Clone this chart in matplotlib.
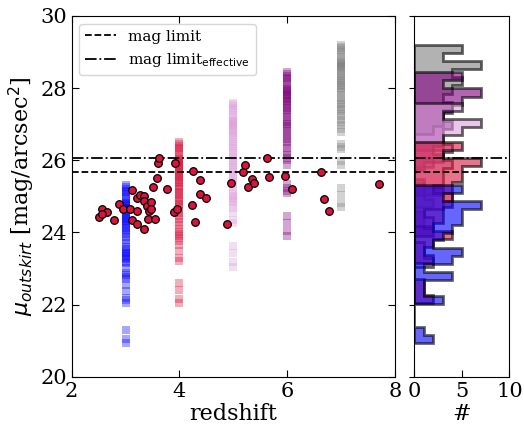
import numpy as np
import matplotlib
matplotlib.use('Agg')
import matplotlib.pyplot as plt

plt.rcParams['font.family'] = 'DejaVu Serif'

# redshift slices of the simulated outskirt brightness
stripe_z = [3, 4, 5, 6, 7]
stripe_colors = ['blue', 'crimson', 'plum', 'purple', 'gray']

mu_z3 = [20.93, 21.05, 21.30, 22.05, 22.12, 22.19, 22.38, 22.55, 22.70, 22.76,
         22.81, 22.87, 23.02, 23.14, 23.19, 23.25, 23.30, 23.35, 23.40, 23.44,
         23.48, 23.53, 23.60, 23.70, 23.80, 23.88, 23.95, 24.02, 24.08, 24.13,
         24.19, 24.23, 24.28, 24.32, 24.37, 24.41, 24.45, 24.50, 24.54, 24.58,
         24.63, 24.66, 24.69, 24.72, 24.76, 24.79, 24.82, 24.85, 24.92, 24.99,
         25.06, 25.11, 25.15, 25.20, 25.25, 25.31]
mu_z4 = [22.03, 22.15, 22.40, 22.60, 23.20, 23.30, 23.48, 23.65, 23.75, 23.85,
         23.90, 23.96, 24.01, 24.10, 24.20, 24.30, 24.38, 24.45, 24.53, 24.60,
         24.68, 24.75, 24.80, 24.86, 24.91, 24.97, 25.03, 25.08, 25.13, 25.19,
         25.25, 25.30, 25.36, 25.41, 25.46, 25.50, 25.54, 25.58, 25.63, 25.68,
         25.72, 25.76, 25.80, 25.85, 25.88, 25.92, 25.95, 25.98, 26.01, 26.04,
         26.10, 26.17, 26.24, 26.30, 26.35, 26.40, 26.45, 26.51]
mu_z5 = [23.05, 23.18, 23.42, 23.62, 24.25, 24.35, 24.55, 24.68, 24.75, 24.83,
         24.90, 24.96, 25.02, 25.07, 25.15, 25.25, 25.37, 25.45, 25.52, 25.60,
         25.67, 25.74, 25.81, 25.87, 25.93, 25.98, 26.05, 26.12, 26.20, 26.27,
         26.33, 26.39, 26.44, 26.51, 26.58, 26.65, 26.71, 26.76, 26.80, 26.84,
         26.89, 26.94, 26.97, 27.00, 27.03, 27.06, 27.09, 27.12, 27.19, 27.26,
         27.33, 27.40, 27.45, 27.50, 27.55, 27.60]
mu_z6 = [23.90, 24.03, 24.25, 24.45, 25.08, 25.15, 25.22, 25.35, 25.88, 26.00,
         26.07, 26.14, 26.24, 26.34, 26.44, 26.51, 26.58, 26.67, 26.74, 26.81,
         26.89, 26.95, 27.01, 27.06, 27.13, 27.20, 27.27, 27.34, 27.40, 27.46,
         27.51, 27.56, 27.61, 27.65, 27.69, 27.74, 27.79, 27.82, 27.85, 27.88,
         27.91, 27.94, 27.97, 28.04, 28.11, 28.18, 28.24, 28.29, 28.34, 28.39,
         28.45]
mu_z7 = [24.70, 24.82, 25.05, 25.22, 25.88, 25.98, 26.30, 26.38, 26.45, 26.78,
         26.88, 26.99, 27.06, 27.13, 27.22, 27.29, 27.36, 27.43, 27.49, 27.55,
         27.60, 27.67, 27.74, 27.81, 27.88, 27.94, 28.00, 28.05, 28.10, 28.15,
         28.19, 28.23, 28.27, 28.33, 28.39, 28.45, 28.50, 28.55, 28.58, 28.61,
         28.64, 28.67, 28.70, 28.73, 28.79, 28.86, 28.93, 29.00, 29.05, 29.10,
         29.15, 29.20]
stripe_mu = [mu_z3, mu_z4, mu_z5, mu_z6, mu_z7]

# observed galaxies
obs_z = [2.51, 2.57, 2.66, 2.57, 2.79, 2.88, 2.96, 3.12, 3.09, 3.12,
         3.21, 3.22, 3.22, 3.26, 3.34, 3.35, 3.40, 3.43, 3.48, 3.47,
         3.42, 3.55, 3.50, 3.59, 3.60, 3.62, 3.35, 3.77, 3.92, 3.89,
         3.95, 4.23, 4.25, 4.29, 4.39, 4.39, 4.49, 4.89, 4.96, 5.18,
         5.21, 5.27, 5.34, 5.38, 5.62, 5.67, 5.96, 6.09, 6.62, 6.68,
         6.78, 7.70]
obs_mu = [24.42, 24.64, 24.57, 24.51, 24.34, 24.79, 24.66, 25.17, 24.64, 24.34,
          24.22, 24.59, 24.95, 25.03, 25.00, 24.88, 24.73, 24.58, 24.85, 24.65,
          24.36, 24.37, 25.27, 25.52, 25.93, 26.07, 24.09, 25.19, 25.93, 24.56,
          24.64, 24.77, 25.70, 24.29, 25.45, 25.06, 24.96, 24.24, 25.36, 25.68,
          25.86, 25.27, 25.48, 25.37, 26.06, 25.54, 25.56, 25.20, 25.68, 24.93,
          24.58, 25.34]

mag_limit = 25.68
mag_limit_eff = 26.06

fig = plt.figure(figsize=(5.24, 4.30), dpi=100)
ax = fig.add_axes([0.1368, 0.1240, 0.6170, 0.8388])
axh = fig.add_axes([0.7901, 0.1240, 0.1819, 0.8388], sharey=ax)

for z, mu, c in zip(stripe_z, stripe_mu, stripe_colors):
    ax.scatter(np.full(len(mu), z), mu, marker='s', s=28, color=c,
               alpha=0.35, linewidths=0, zorder=1)

ax.axhline(mag_limit, color='k', ls='--', lw=1.3, label='mag limit', zorder=2)
ax.axhline(mag_limit_eff, color='k', ls='-.', lw=1.3,
           label='mag limit$_{\\rm effective}$', zorder=2)

ax.scatter(obs_z, obs_mu, s=30, color='crimson', edgecolors='k',
           linewidths=0.9, zorder=3)

ax.set_xlim(2, 8)
ax.set_ylim(20, 30)
ax.set_xticks([2, 4, 6, 8])
ax.set_yticks([20, 22, 24, 26, 28, 30])
ax.tick_params(direction='in', top=True, right=True, labelsize=15, length=5)
ax.set_xlabel('redshift', fontsize=16, labelpad=2)
ax.set_ylabel('$\\mu_{outskirt}$ [mag/arcsec$^2$]', fontsize=16, labelpad=2)
ax.legend(loc='upper left', fontsize=11)

# side histograms, drawn from high to low redshift
for mu, c in zip(stripe_mu[::-1], stripe_colors[::-1]):
    axh.hist(mu, bins=20, orientation='horizontal', histtype='stepfilled',
             color=c, edgecolor='k', linewidth=2, alpha=0.6)

axh.axhline(mag_limit, color='k', ls='--', lw=1.3)
axh.axhline(mag_limit_eff, color='k', ls='-.', lw=1.3)
axh.set_xlim(0, 10)
axh.set_xticks([0, 5, 10])
axh.tick_params(axis='x', direction='in', labelsize=15, length=5)
axh.tick_params(axis='y', labelleft=False)
axh.set_xlabel('#', fontsize=16, labelpad=2)

fig.savefig('out.png', dpi=100)
